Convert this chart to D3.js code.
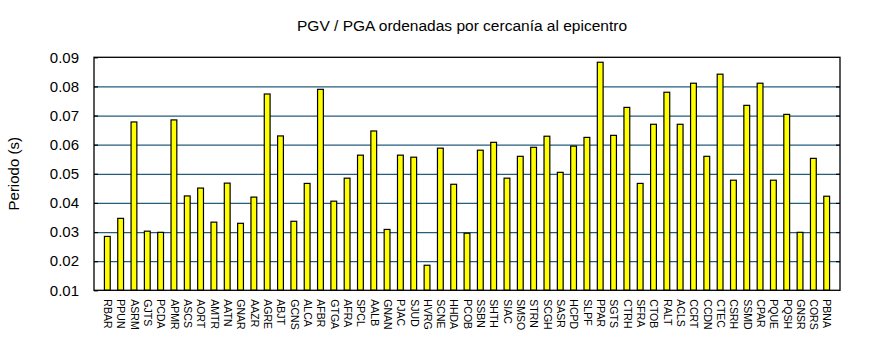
<!DOCTYPE html>
<html>
<head>
<meta charset="utf-8">
<script src="https://cdn.jsdelivr.net/npm/d3@7"></script>
<style>
  html, body { margin: 0; padding: 0; background: #fff; }
  svg { display: block; }
  text { font-family: "Liberation Sans", Arial, sans-serif; fill: #000; }
</style>
</head>
<body>
<svg id="chart" width="870" height="350"></svg>
<script>
const stations = ["RBAR","PPUN","ASRM","GJTS","PCDA","APMR","ASCS","AORT","AMTR","AATN","GNAR","AAZR","AGRE","ABJT","GCNS","ALCA","AFBR","GTGA","AFRA","SPCL","AALB","GNAN","PJAC","SJUD","HVRG","SCNE","HHDA","PCOB","SSBN","SHTH","SIAC","SMSO","STRN","SCGH","SASR","HCPD","SLPF","PPAR","SGTS","CTRH","SFRA","CTOB","RALT","ACLS","CCRT","CCDN","CTEC","CSRH","SSMD","CPAR","PQUE","PQSH","GNSR","CORS","PBNA"];
const periods = [0.0285,0.0347,0.0678,0.0303,0.0299,0.0685,0.0424,0.0451,0.0334,0.0468,0.0330,0.0420,0.0774,0.0630,0.0337,0.0467,0.0790,0.0406,0.0485,0.0564,0.0647,0.0309,0.0564,0.0557,0.0186,0.0588,0.0464,0.0296,0.0581,0.0608,0.0485,0.0560,0.0591,0.0629,0.0505,0.0595,0.0625,0.0883,0.0632,0.0728,0.0467,0.0670,0.0780,0.0670,0.0811,0.0560,0.0842,0.0478,0.0735,0.0811,0.0478,0.0704,0.0299,0.0553,0.0423];
const yTicks = [0.01,0.02,0.03,0.04,0.05,0.06,0.07,0.08,0.09];
const gridTicks = [0.02,0.03,0.04,0.05,0.06,0.07,0.08];
const title = "PGV / PGA ordenadas por cercanía al epicentro";
const yLabel = "Periodo (s)";

const L = 94, R = 840, T = 57.3, B = 290.3;
const svg = d3.select("#chart");

const x = d3.scaleLinear().domain([0, stations.length + 1]).range([L, R]);
const y = d3.scaleLinear().domain([0.01, 0.09]).range([B, T]);

// gridlines
svg.append("g")
  .attr("transform", `translate(${L},0)`)
  .call(d3.axisLeft(y).tickValues(gridTicks).tickSize(-(R - L)).tickFormat(""))
  .call(g => g.select(".domain").remove())
  .call(g => g.selectAll("line").attr("stroke", "#245d7e").attr("stroke-width", 1.2));

// bars
const bw = 5.8;
svg.append("g").selectAll("rect")
  .data(periods)
  .join("rect")
  .attr("x", (d, i) => x(i + 1) - bw / 2)
  .attr("y", d => y(d))
  .attr("width", bw)
  .attr("height", d => y(0.01) - y(d))
  .attr("fill", "#ffff00")
  .attr("stroke", "#000")
  .attr("stroke-width", 1.2);

// frame
svg.append("rect")
  .attr("x", L).attr("y", T)
  .attr("width", R - L).attr("height", B - T)
  .attr("fill", "none").attr("stroke", "#000").attr("stroke-width", 1.3);

// left axis
svg.append("g")
  .attr("transform", `translate(${L},0)`)
  .call(d3.axisLeft(y).tickValues(yTicks).tickSize(-4).tickPadding(15).tickFormat(d3.format(".2f")))
  .call(g => g.select(".domain").remove())
  .call(g => g.selectAll("line").attr("stroke", "#000").attr("stroke-width", 1.2))
  .call(g => g.selectAll("text").attr("font-size", 15).attr("font-family", "Liberation Sans, Arial, sans-serif").attr("fill", "#000"));

// right axis ticks
svg.append("g")
  .attr("transform", `translate(${R},0)`)
  .call(d3.axisRight(y).tickValues(gridTicks).tickSize(-4).tickFormat(""))
  .call(g => g.select(".domain").remove())
  .call(g => g.selectAll("line").attr("stroke", "#000").attr("stroke-width", 1.2));

// bottom axis labels
svg.append("g")
  .attr("transform", `translate(0,${B})`)
  .call(d3.axisBottom(x).tickValues(d3.range(1, stations.length + 1)).tickSize(0).tickFormat(d => stations[d - 1]))
  .call(g => g.select(".domain").remove())
  .call(g => g.selectAll("text")
    .attr("font-size", 10.5)
    .attr("font-family", "Liberation Sans, Arial, sans-serif")
    .attr("fill", "#000")
    .attr("text-anchor", "start")
    .attr("x", 0).attr("y", 0)
    .attr("dy", "0.35em")
    .attr("transform", "translate(0,9) rotate(90)"));

// title
svg.append("text")
  .attr("x", 462).attr("y", 31)
  .attr("text-anchor", "middle")
  .attr("font-size", 15.5)
  .text(title);

// y label
svg.append("text")
  .attr("transform", `translate(19,${(T + B) / 2}) rotate(-90)`)
  .attr("text-anchor", "middle")
  .attr("font-size", 15)
  .text(yLabel);
</script>
</body>
</html>
